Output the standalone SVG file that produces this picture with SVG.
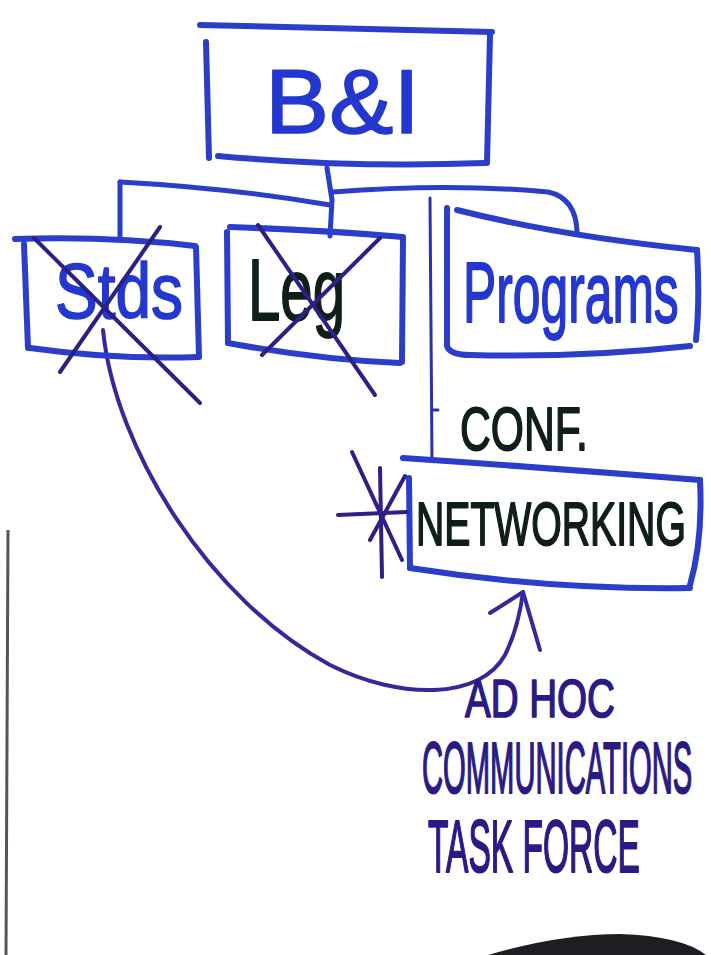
<svg xmlns="http://www.w3.org/2000/svg" width="711" height="955" viewBox="0 0 711 955">
<style>
.box{fill:none;stroke:#2a3ec9;stroke-width:6;stroke-linecap:round;stroke-linejoin:round}
.conn{fill:none;stroke:#2a3ec9;stroke-width:5;stroke-linecap:round;stroke-linejoin:round}
.thin{fill:none;stroke:#2a30b0;stroke-width:3;stroke-linecap:round}
.cross{fill:none;stroke:#2c1f86;stroke-width:4;stroke-linecap:round}
.curve{fill:none;stroke:#35289a;stroke-width:4;stroke-linecap:round;stroke-linejoin:round}
.t{font-family:"Liberation Sans","DejaVu Sans",sans-serif;stroke-linejoin:round;vector-effect:non-scaling-stroke}
.blue{fill:#2437cf;stroke:#2437cf;stroke-width:1.5}
.black{fill:#0f1f18;stroke:#0f1f18;stroke-width:1.5}
.navy{fill:#2a1a84;stroke:#2a1a84;stroke-width:1.5}
</style>
<rect width="711" height="955" fill="#ffffff"/>
<path d="M8,530 L6,955" stroke="#555" stroke-width="3" fill="none"/>
<path d="M488,955 Q560,934 620,934 Q682,936 706,955 Z" fill="#1e1e22"/>

<g id="connectors">
  <path class="conn" d="M327,168 L332,200 L330,236"/>
  <path class="conn" d="M120,182 Q230,188 330,205"/>
  <path class="conn" d="M120,182 L120,236"/>
  <path class="conn" d="M333,192 Q450,183 548,192 Q576,198 577,232"/>
  <path class="thin" d="M430,198 L432,460"/>
  <path class="thin" d="M432,410 L438,410"/>
  <path class="curve" d="M103,330 C115,450 210,600 330,665 C400,700 480,700 505,655 C515,635 520,615 523,592"/>
  <path class="curve" d="M490,613 L523,592 L540,650"/>
</g>

<g id="node-bi">
  <path class="box" d="M200,25 L492,32"/>
  <path class="box" d="M490,35 L487,163"/>
  <path class="box" d="M218,156 Q350,168 485,163"/>
  <path class="box" d="M206,42 L209,158"/>
  <text class="t blue" x="265" y="133" font-size="90" textLength="155" lengthAdjust="spacingAndGlyphs">B&amp;I</text>
</g>

<g id="node-stds">
  <path class="box" d="M15,239 Q110,236 195,246"/>
  <path class="box" d="M24,244 L28,348"/>
  <path class="box" d="M30,348 Q115,360 199,357"/>
  <path class="box" d="M196,247 L199,356"/>
  <text class="t blue" transform="translate(55,318) scale(0.82,1)" font-size="78" textLength="156" lengthAdjust="spacingAndGlyphs">Stds</text>
  <path class="cross" d="M34,238 L200,403"/>
  <path class="cross" d="M160,227 L60,372"/>
</g>

<g id="node-leg">
  <path class="box" d="M230,227 Q320,230 403,237"/>
  <path class="box" d="M227,232 L228,343"/>
  <path class="box" d="M228,343 Q320,360 400,363"/>
  <path class="box" d="M403,238 L402,362"/>
  <text class="t black" transform="translate(248,320) scale(0.66,1)" font-size="88" textLength="147" lengthAdjust="spacingAndGlyphs">Leg</text>
  <path class="cross" d="M258,225 L375,395"/>
  <path class="cross" d="M380,238 L262,355"/>
</g>

<g id="node-programs">
  <path class="box" d="M457,210 Q560,236 697,250"/>
  <path class="box" d="M697,250 Q700,300 696,340"/>
  <path class="box" d="M447,208 L447,346 Q450,355 470,355 Q580,358 690,346"/>
  <text class="t blue" transform="translate(463,322) scale(0.58,1)" font-size="86" textLength="372" lengthAdjust="spacingAndGlyphs">Programs</text>
</g>

<g id="node-conf">
  <text class="t black" transform="translate(460,450) scale(0.663,1)" font-size="62" textLength="193" lengthAdjust="spacingAndGlyphs">CONF.</text>
</g>

<g id="node-networking">
  <path class="box" d="M403,458 Q550,468 700,480"/>
  <path class="box" d="M700,480 Q703,540 690,585"/>
  <path class="box" d="M410,568 Q550,590 690,588"/>
  <path class="box" d="M409,478 L410,568"/>
  <text class="t black" transform="translate(416,545) scale(0.632,1)" font-size="62" textLength="427" lengthAdjust="spacingAndGlyphs">NETWORKING</text>
  <path class="cross" d="M338,515 L407,512"/>
  <path class="cross" d="M380,468 L382,577"/>
  <path class="cross" d="M352,452 L402,560"/>
  <path class="cross" d="M370,540 L405,476"/>
</g>

<g id="node-adhoc">
  <text class="t navy" transform="translate(465,717) scale(0.714,1)" font-size="54" textLength="210" lengthAdjust="spacingAndGlyphs">AD HOC</text>
  <text class="t navy" transform="translate(422,793) scale(0.394,1)" font-size="72" textLength="686" lengthAdjust="spacingAndGlyphs">COMMUNICATIONS</text>
  <text class="t navy" transform="translate(428,872) scale(0.448,1)" font-size="74" textLength="473" lengthAdjust="spacingAndGlyphs">TASK FORCE</text>
</g>
</svg>
